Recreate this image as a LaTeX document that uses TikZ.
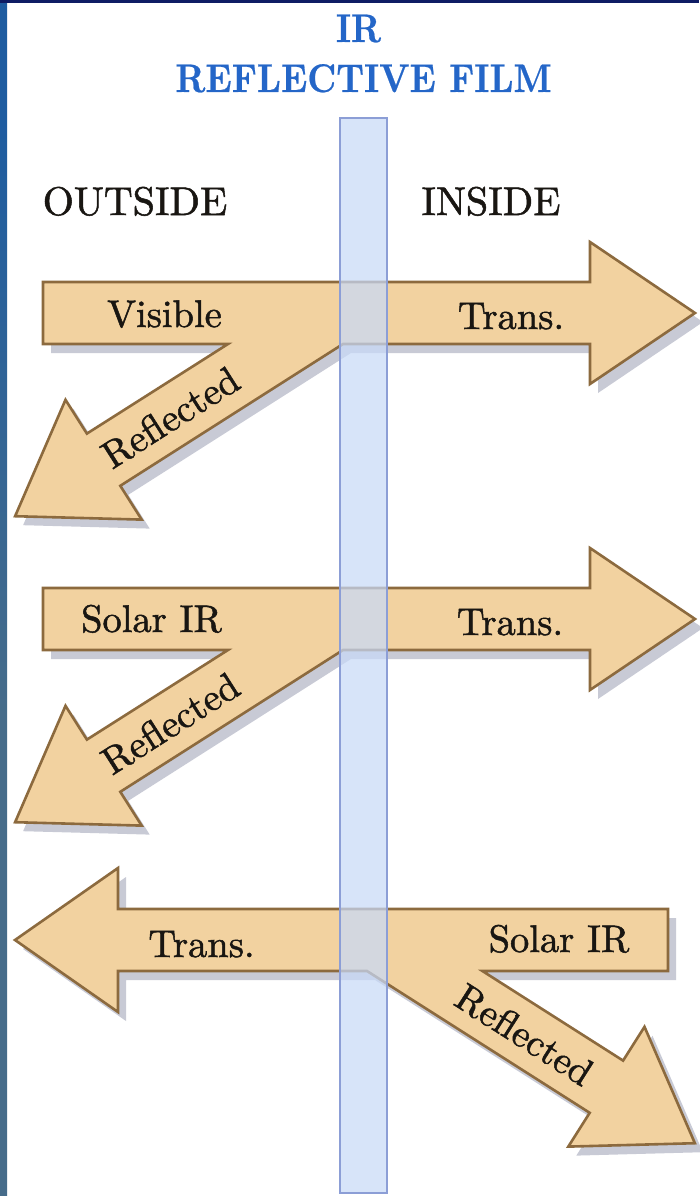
\documentclass[tikz,border=0pt]{standalone}
\font\lmlab="[lmroman10-regular]:mapping=tex-text;embolden=1.3" at 38.5pt
\font\lmhdr="[lmroman10-regular]:mapping=tex-text;embolden=1.3" at 40pt
\font\lmttl="[lmroman10-bold]:mapping=tex-text;embolden=0.6" at 40pt
\definecolor{sideA}{RGB}{40,92,60}
\definecolor{sideB}{RGB}{70,108,138}
\definecolor{sideC}{RGB}{30,92,160}
\definecolor{sideD}{RGB}{14,30,104}
\definecolor{navy}{RGB}{14,28,100}
\definecolor{arrowfill}{RGB}{242,210,160}
\definecolor{arrowline}{RGB}{140,106,62}
\definecolor{filmfill}{RGB}{200,218,248}
\definecolor{filmline}{RGB}{140,158,214}
\definecolor{titleblue}{RGB}{36,102,200}
\definecolor{shadowc}{RGB}{200,202,213}
\definecolor{textc}{RGB}{25,22,18}
\pgfdeclareverticalshading{sidebar}{100bp}{color(0bp)=(sideA); color(8bp)=(sideA); color(20bp)=(sideB); color(45bp)=(sideB); color(70bp)=(sideC); color(88bp)=(sideC); color(100bp)=(sideD)}
\tikzset{
  lab/.style={font=\lmlab, text=textc, inner sep=0pt},
  hdr/.style={font=\lmhdr, text=textc, inner sep=0pt},
  ttl/.style={font=\lmttl, text=titleblue, inner sep=0pt, xscale=0.87},
  arrowbody/.style={fill=arrowfill, draw=arrowline, line width=2.6pt, line join=miter},
  arrowshadow/.style={fill=shadowc, draw=none},
  film/.style={fill=filmfill, fill opacity=0.72, draw=filmline, line width=2.4pt},
  branchA/.pic={
    \path[pic actions] (43,282) -- (590,282) -- (590,242) -- (695,313) -- (590,384) -- (590,344)
      -- (343,344) -- (120.3,485.8) -- (141.7,519.6) -- (15.1,516.2) -- (65.5,399.8)
      -- (86.9,433.6) -- (228,344) -- (43,344) -- cycle;
  },
  branchB/.pic={
    \path[pic actions] (15,940) -- (118,868) -- (118,909) -- (668,909) -- (668,971)
      -- (482.4,971) -- (623.1,1060.6) -- (644.5,1026.8) -- (694.9,1143.2) -- (568.3,1146.6)
      -- (589.7,1112.8) -- (367,971) -- (118,971) -- (118,1012) -- cycle;
  }
}
\begin{document}
\begin{tikzpicture}[x=1pt,y=-1pt]
\useasboundingbox (0,0) rectangle (699,1196);
\fill[white] (0,0) rectangle (699,1196);
% slide background edges
\shade[shading=sidebar] (0,0) rectangle (7,1196);
\fill[navy] (0,0) rectangle (699,3.5);

% shadows
\pic[arrowshadow] at (8,9) {branchA};
\pic[arrowshadow] at (8,315) {branchA};
\pic[arrowshadow] at (8,9) {branchB};

% arrows
\pic[arrowbody] at (0,0) {branchA};
\pic[arrowbody] at (0,306) {branchA};
\pic[arrowbody] at (0,0) {branchB};

% film
\draw[film] (340,118) rectangle (387,1193);

% titles
\node[ttl, anchor=base] (ir) at (358.5,42) {IR};
\node[ttl, anchor=base] (rf) at (363.5,92) {REFLECTIVE FILM};
\node[hdr, anchor=base] (out) at (135,215) {OUTSIDE};
\node[hdr, anchor=base] (ins) at (491,215) {INSIDE};

% arrow labels
\node[lab, anchor=base] (vis) at (164.5,327) {Visible};
\node[lab, anchor=base] (tr1) at (511,329) {Trans.};
\node[lab, rotate=32.5] (rf1) at (170.3,417.3) {Reflected};

\node[lab, anchor=base] (sir2) at (151.5,632) {Solar IR};
\node[lab, anchor=base] (tr2) at (510,635) {Trans.};
\node[lab, rotate=32.5] (rf2) at (170.3,723.3) {Reflected};

\node[lab, anchor=base] (tr3) at (201.5,957) {Trans.};
\node[lab, anchor=base] (sir3) at (559,952) {Solar IR};
\node[lab, rotate=-32.5] (rf3) at (524.5,1034.6) {Reflected};
\end{tikzpicture}
\end{document}
